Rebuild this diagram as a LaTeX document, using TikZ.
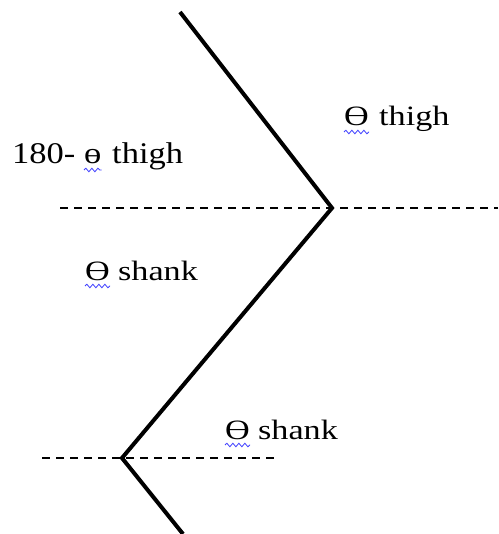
\documentclass[tikz,border=0pt]{standalone}
\usepackage{fontspec}
\setmainfont{Liberation Serif}
\newfontfamily\widefont[FakeStretch=1.22]{Liberation Serif}
\newfontfamily\widerfont[FakeStretch=1.15]{Liberation Serif}
\usetikzlibrary{decorations.pathmorphing}
\begin{document}
\begin{tikzpicture}[x=1pt,y=-1pt,
  leg/.style={line width=4pt, line join=miter},
  refline/.style={line width=1.3pt, dash pattern=on 8pt off 6pt},
  lbl/.style={font=\widefont\fontsize{28}{32}\selectfont, inner sep=0pt, anchor=base west},
  biglbl/.style={font=\widerfont\fontsize{30}{34}\selectfont, inner sep=0pt, anchor=base west},
  squig/.style={draw=blue!75, decorate, decoration={snake, amplitude=1.8pt, segment length=6pt}, line width=0.8pt}]
\useasboundingbox (0,0) rectangle (498,534);
\coordinate (top) at (180,12);
\coordinate (knee) at (332,208);
\coordinate (ankle) at (122,458);
\coordinate (foot) at (183,534);
\coordinate (d1a) at (60,208);
\coordinate (d1b) at (498,208);
\coordinate (d2a) at (42,458);
\coordinate (d2b) at (278,458);
\draw[refline] (d1a) -- (d1b);
\draw[refline] (d2a) -- (d2b);
\draw[leg] (top) -- (knee) -- (ankle) -- (foot);
% theta thigh
\node[lbl] (th1) at (344,126) {Ө};
\node[lbl] (w1) at (379,126) {thigh};
\draw[squig] ([yshift=-6pt]th1.base west) -- ([yshift=-6pt]th1.base east);
% 180- theta thigh
\node[biglbl] (p2) at (12,164) {180-};
\node[biglbl] (th2) at (84,164) {ө};
\node[biglbl] (w2) at (112,164) {thigh};
\draw[squig] ([yshift=-6pt]th2.base west) -- ([yshift=-6pt]th2.base east);
% theta shank upper
\node[lbl] (th3) at (85,280) {Ө};
\node[lbl] (w3) at (118,280) {shank};
\draw[squig] ([yshift=-6pt]th3.base west) -- ([yshift=-6pt]th3.base east);
% theta shank lower
\node[lbl] (th4) at (225,439) {Ө};
\node[lbl] (w4) at (258,439) {shank};
\draw[squig] ([yshift=-6pt]th4.base west) -- ([yshift=-6pt]th4.base east);
\end{tikzpicture}
\end{document}
